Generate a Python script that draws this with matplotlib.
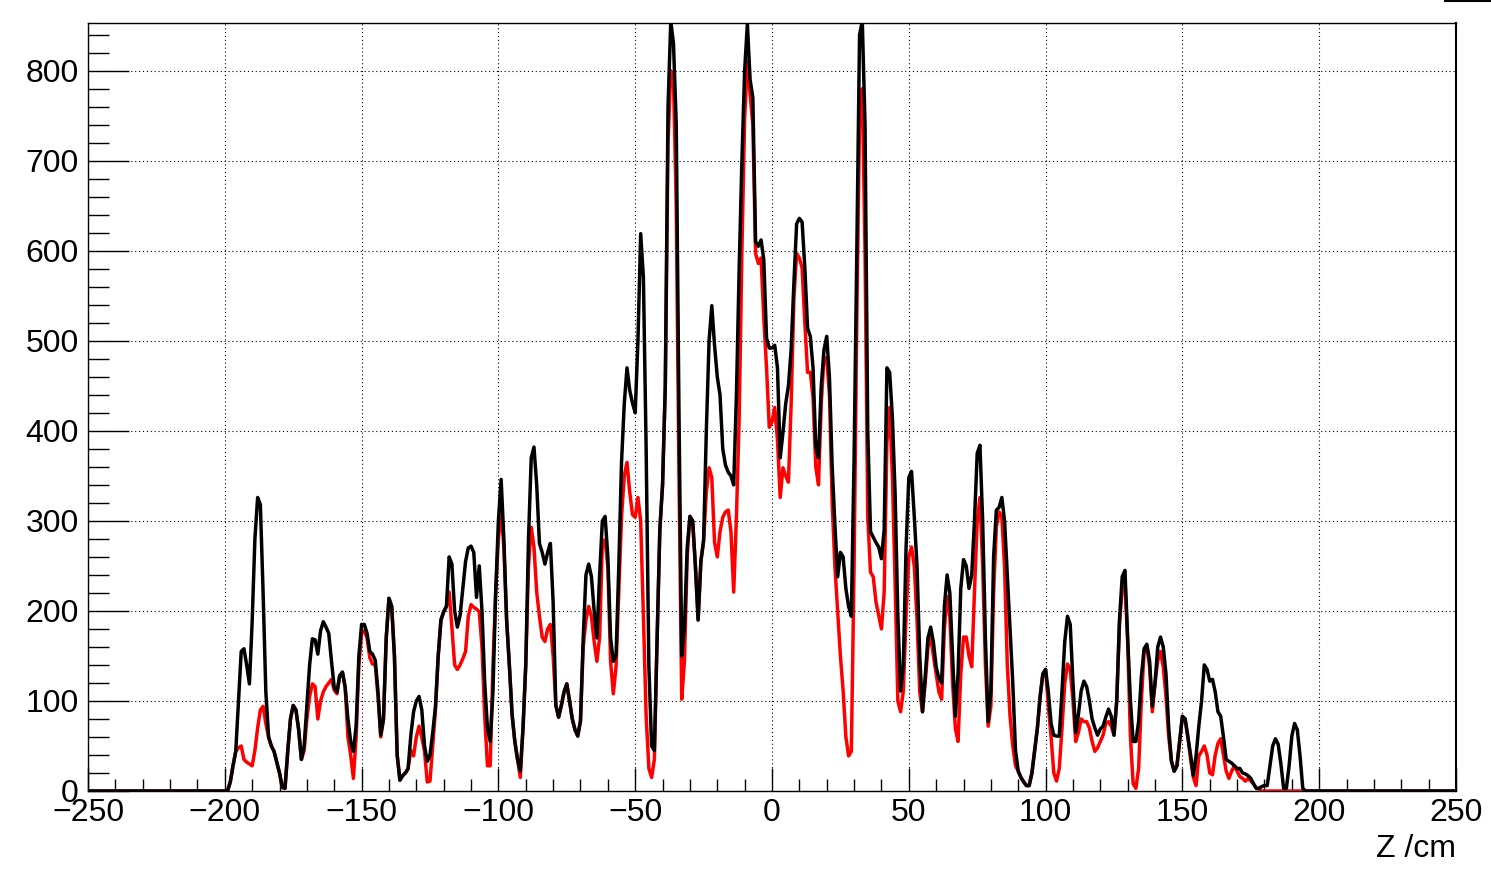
import numpy as np
import matplotlib
matplotlib.use("Agg")
import matplotlib.pyplot as plt
from matplotlib.ticker import MultipleLocator
from matplotlib.lines import Line2D

# ---------------- data (1 cm bins, first bin centre at z_first) ----------------
z_first = -200
black_counts = [
    0, 0, 10, 28, 44, 100, 155, 158, 140, 119,            # -200..-191
    188, 280, 326, 318, 220, 110, 60, 50, 44, 32,         # -190..-181
    20, 4, 3, 44, 80, 95, 90, 68, 35, 50,                 # -180..-171
    95, 140, 169, 168, 152, 178, 188, 182, 175, 144,      # -170..-161
    115, 110, 128, 132, 115, 80, 55, 44, 72, 150,         # -160..-151
    185, 185, 175, 155, 152, 145, 110, 62, 80, 170,       # -150..-141
    214, 205, 150, 40, 12, 17, 20, 25, 62, 88,            # -140..-131
    100, 105, 90, 50, 33, 40, 65, 94, 150, 190,           # -130..-121
    199, 205, 260, 252, 200, 182, 195, 225, 255, 270,     # -120..-111
    272, 265, 215, 250, 200, 120, 70, 55, 110, 220,       # -110..-101
    300, 346, 280, 190, 140, 85, 55, 35, 22, 70,          # -100..-91
    140, 280, 370, 382, 340, 275, 265, 252, 265, 275,     # -90..-81
    210, 95, 82, 95, 110, 119, 100, 80, 68, 61,           # -80..-71
    78, 170, 240, 252, 238, 200, 170, 240, 300, 305,      # -70..-61
    260, 170, 144, 150, 249, 365, 430, 470, 445, 431,     # -60..-51
    420, 500, 619, 570, 380, 138, 50, 45, 170, 290,       # -50..-41
    340, 450, 760, 855, 830, 740, 420, 150, 182, 270,     # -40..-31
    305, 300, 250, 190, 255, 278, 400, 500, 539, 495,     # -30..-21
    460, 440, 380, 362, 354, 350, 340, 440, 580, 700,     # -20..-11
    800, 852, 790, 770, 610, 605, 612, 590, 503, 492,     # -10..-1
    492, 495, 470, 370, 398, 430, 450, 490, 564, 630,     # 0..9
    636, 632, 581, 514, 505, 470, 382, 370, 450, 490,     # 10..19
    505, 459, 360, 295, 238, 265, 260, 225, 205, 194,     # 20..29
    370, 600, 840, 855, 740, 400, 288, 282, 276, 271,     # 30..39
    258, 290, 470, 465, 415, 330, 194, 111, 140, 270,     # 40..49
    348, 355, 305, 250, 150, 88, 127, 170, 182, 165,      # 50..59
    138, 125, 120, 205, 240, 220, 150, 83, 130, 225,      # 60..69
    257, 250, 225, 240, 300, 375, 384, 300, 170, 77,      # 70..79
    111, 260, 312, 315, 326, 300, 240, 182, 120, 45,      # 80..89
    22, 15, 10, 6, 6, 20, 45, 70, 105, 130,               # 90..99
    135, 110, 75, 62, 61, 61, 111, 166, 194, 185,         # 100..109
    120, 65, 85, 111, 122, 116, 100, 80, 70, 62,          # 110..119
    69, 72, 82, 91, 83, 62, 100, 190, 238, 245,           # 120..129
    170, 100, 55, 55, 77, 127, 158, 163, 145, 94,         # 130..139
    120, 160, 171, 160, 130, 70, 33, 22, 28, 55,          # 140..149
    83, 80, 60, 40, 17, 39, 72, 100, 140, 135,            # 150..159
    122, 124, 110, 88, 83, 60, 35, 33, 31, 28,            # 160..169
    25, 25, 20, 19, 17, 14, 8, 3, 3, 5,                   # 170..179
    6, 6, 28, 50, 58, 52, 30, 3, 3, 28,                   # 180..189
    61, 75, 68, 39, 3, 0,                                 # 190..195
]
red_counts = [
    0, 0, 10, 28, 44, 48, 50, 35, 32, 30,                 # -200..-191
    28, 45, 70, 90, 94, 75, 60, 50, 44, 32,               # -190..-181
    20, 4, 3, 44, 80, 95, 90, 68, 35, 45,                 # -180..-171
    80, 105, 119, 116, 80, 100, 110, 116, 120, 124,       # -170..-161
    112, 108, 128, 132, 115, 60, 40, 14, 60, 140,         # -160..-151
    175, 178, 170, 148, 141, 140, 105, 60, 80, 170,       # -150..-141
    214, 205, 150, 40, 12, 17, 20, 25, 45, 39,            # -140..-131
    60, 72, 60, 44, 10, 11, 50, 90, 150, 190,             # -130..-121
    199, 205, 221, 182, 140, 135, 140, 147, 155, 194,     # -120..-111
    207, 204, 202, 199, 160, 83, 28, 28, 138, 220,        # -110..-101
    280, 312, 270, 190, 140, 85, 55, 35, 15, 70,          # -100..-91
    140, 250, 293, 271, 221, 194, 171, 166, 180, 185,     # -90..-81
    150, 95, 82, 95, 110, 119, 100, 80, 68, 61,           # -80..-71
    78, 160, 190, 205, 194, 166, 144, 171, 276, 279,      # -70..-61
    249, 144, 108, 138, 221, 304, 350, 365, 332, 307,     # -60..-51
    304, 326, 300, 194, 83, 25, 15, 35, 170, 290,         # -50..-41
    340, 450, 720, 800, 790, 650, 350, 102, 144, 260,     # -40..-31
    305, 300, 250, 190, 255, 278, 332, 359, 348, 276,     # -30..-21
    260, 288, 304, 310, 312, 288, 221, 304, 415, 600,     # -20..-11
    747, 810, 774, 740, 597, 586, 592, 525, 470, 404,     # -10..-1
    410, 426, 390, 326, 359, 350, 343, 430, 547, 597,     # 0..9
    592, 581, 520, 465, 465, 437, 360, 340, 430, 481,     # 10..19
    481, 440, 320, 249, 200, 150, 111, 60, 39, 44,        # 20..29
    250, 525, 747, 780, 600, 304, 243, 238, 210, 195,     # 30..39
    180, 221, 387, 426, 350, 230, 100, 88, 111, 194,      # 40..49
    260, 271, 250, 190, 110, 88, 120, 160, 171, 150,      # 50..59
    130, 110, 102, 180, 216, 194, 120, 70, 55, 130,       # 60..69
    171, 171, 150, 138, 221, 300, 326, 250, 140, 72,      # 70..79
    94, 221, 293, 310, 305, 249, 140, 83, 50, 28,         # 80..89
    22, 15, 10, 6, 6, 20, 45, 70, 105, 130,               # 90..99
    135, 95, 60, 20, 11, 25, 70, 120, 141, 135,           # 100..109
    100, 55, 65, 80, 77, 77, 70, 55, 44, 48,              # 110..119
    55, 62, 75, 77, 72, 62, 100, 185, 225, 232,           # 120..129
    165, 60, 8, 3, 25, 100, 155, 160, 138, 88,            # 130..139
    120, 145, 155, 138, 105, 60, 33, 22, 28, 55,          # 140..149
    83, 80, 60, 35, 15, 6, 39, 44, 50, 40,                # 150..159
    20, 18, 40, 53, 58, 40, 22, 14, 22, 28,               # 160..169
    22, 16, 14, 11, 14, 11, 8, 3, 2, 0,                   # 170..179
    0, 0, 0, 0, 0, 0, 0, 0, 0, 0,                         # 180..189
    0, 0, 0, 0, 0, 0,                                     # 190..195
]
x_range = (-250, 250)
y_max = 853
x_major, x_minor = 50, 10
y_major, y_minor = 100, 20
x_label = "Z /cm"

# ---------------- plotting ----------------
plt.rcParams["font.family"] = ["Liberation Sans", "DejaVu Sans"]
W, H = 1491, 873
fig = plt.figure(figsize=(W / 100, H / 100), dpi=100)
fig.patch.set_facecolor("white")
L, R, T, B = 88, 1456, 23, 791
ax = fig.add_axes([L / W, (H - B) / H, (R - L) / W, (B - T) / H])

z_all = np.arange(x_range[0], x_range[1] + 1)

def full(vals):
    out = np.zeros(len(z_all))
    i0 = z_first - x_range[0]
    out[i0:i0 + len(vals)] = vals
    return out

ax.plot(z_all, full(red_counts), color="#ff0000", lw=2.5, solid_joinstyle="round", zorder=3)
ax.plot(z_all, full(black_counts), color="black", lw=2.5, solid_joinstyle="round", zorder=4)

ax.set_xlim(*x_range)
ax.set_ylim(0, y_max)

ax.xaxis.set_major_locator(MultipleLocator(x_major))
ax.xaxis.set_minor_locator(MultipleLocator(x_minor))
ax.yaxis.set_major_locator(MultipleLocator(y_major))
ax.yaxis.set_minor_locator(MultipleLocator(y_minor))

ax.grid(True, which="major", color="black", linestyle=(0, (1, 2.5)), linewidth=0.8, zorder=1)

ax.tick_params(axis="x", which="major", direction="in", length=16.6, width=1.0,
               labelsize=23, pad=5)
ax.tick_params(axis="x", which="minor", direction="in", length=8.3, width=1.0)
ax.tick_params(axis="y", which="major", direction="in", length=29.5, width=1.0,
               labelsize=23, pad=6.5)
ax.tick_params(axis="y", which="minor", direction="in", length=14.8, width=1.0)

for s in ["left", "bottom", "top"]:
    ax.spines[s].set_linewidth(1.0)
ax.spines["right"].set_linewidth(1.5)
ax.spines["right"].set_linestyle((0, (1, 1)))

fig.text(1456 / W, (H - 857) / H, x_label, ha="right", va="baseline", fontsize=23)

fig.add_artist(Line2D([1445 / W, 1.0], [1 - 1 / H, 1 - 1 / H], color="black", lw=1.5,
                      transform=fig.transFigure))

fig.savefig("out.png", dpi=100, facecolor="white")
